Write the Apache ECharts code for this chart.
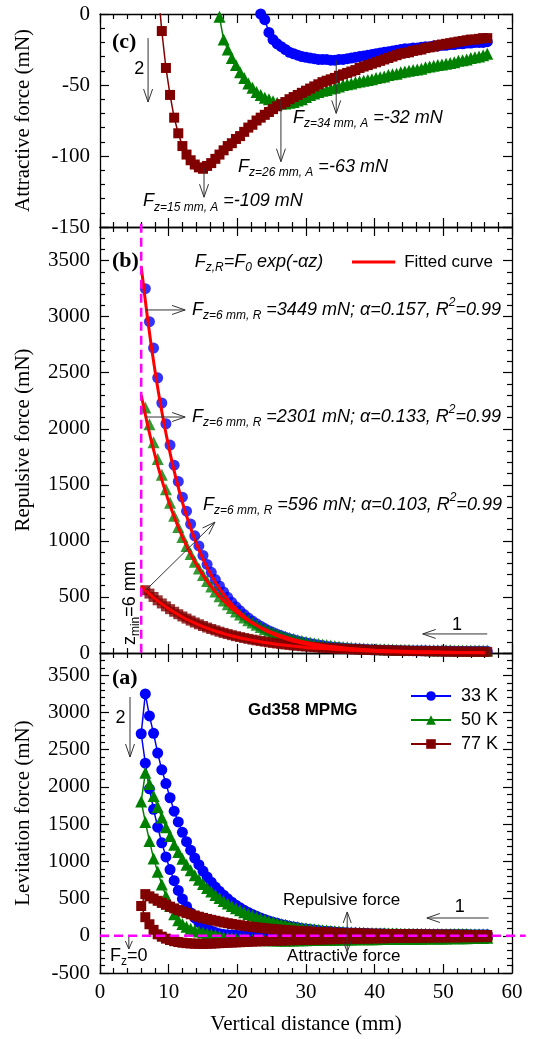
<!DOCTYPE html>
<html>
<head>
<meta charset="utf-8">
<script src="https://cdn.jsdelivr.net/npm/echarts@6/dist/echarts.min.js"></script>
<style>
  html, body { margin: 0; padding: 0; background: #fff; }
  #chart { width: 539px; height: 1039px; }
</style>
</head>
<body>
<div id="chart"></div>
<script>
// Vertical distance grid (mm) shared by all measured branches
const zUp = [
  6.0, 6.6, 7.2, 7.8, 8.4, 9.0, 9.6, 10.2, 10.8, 11.4,
  12.0, 12.6, 13.2, 13.8, 14.4, 15.0, 15.6, 16.2, 16.8, 17.4,
  18.0, 18.6, 19.2, 19.8, 20.4, 21.0, 21.6, 22.2, 22.8, 23.4,
  24.0, 24.6, 25.2, 25.8, 26.4, 27.0, 27.6, 28.2, 28.8, 29.4,
  30.0, 30.6, 31.2, 31.8, 32.4, 33.0, 33.6, 34.2, 34.8, 35.4,
  36.0, 36.6, 37.2, 37.8, 38.4, 39.0, 39.6, 40.2, 40.8, 41.4,
  42.0, 42.6, 43.2, 43.8, 44.4, 45.0, 45.6, 46.2, 46.8, 47.4,
  48.0, 48.6, 49.2, 49.8, 50.4, 51.0, 51.6, 52.2, 52.8, 53.4,
  54.0, 54.6, 55.2, 55.8, 56.4
];

// 33 K: descending magnet (repulsive branch) and ascending magnet (attractive branch), mN
const repBlue = [
  null, 3250, 2955, 2720, 2455, 2230, 2045, 1855, 1675, 1530,
  1390, 1265, 1150, 1045, 955, 870, 790, 720, 655, 598,
  545, 497, 452, 412, 376, 343, 313, 286, 262, 239,
  218, 199, 182, 167, 153, 140, 128, 118, 108, 99,
  91, 84, 77, 71, 66, 61, 56, 52, 48, 45,
  42, 39, 37, 35, 33, 31, 29, 28, 27, 26,
  25, 24, 23, 22, 21, 21, 20, 20, 19, 19,
  18, 18, 18, 17, 17, 17, 16, 16, 16, 16,
  15, 15, 15, 15, 15
];
const attBlue = [
  2715, 2320, 1975, 1700, 1460, 1250, 1060, 890, 740, 610,
  495, 395, 310, 240, 180, 132, 94, 65, 44, 29,
  19, 13, 9, 7, 5, 4, 3, 2, 1, 0,
  -4, -13, -18, -21, -23, -25, -27, -28, -29, -30,
  -30.5, -31, -31.5, -32, -32, -32, -32.5, -32.5, -32, -32,
  -31.5, -31, -30.5, -30, -29.5, -29, -28.5, -28, -27.5, -27,
  -26.5, -26, -25.5, -25, -24.5, -24.5, -24, -24, -23.5, -23,
  -23, -22.5, -22.5, -22, -22, -21.5, -21.5, -21, -21, -20.5,
  -20.5, -20, -20, -20, -19.5
];

// 50 K
const repGreen = [
  null, 2190, 2040, 1880, 1730, 1590, 1460, 1340, 1225, 1125,
  1035, 955, 882, 815, 753, 696, 643, 594, 549, 507,
  469, 434, 401, 371, 343, 317, 293, 271, 251, 232,
  215, 199, 184, 171, 158, 147, 136, 126, 117, 109,
  101, 94, 88, 82, 76, 71, 66, 62, 58, 54,
  51, 48, 45, 43, 41, 39, 37, 35, 34, 33,
  32, 31, 30, 29, 28, 28, 27, 27, 26, 26,
  25, 25, 25, 24, 24, 24, 23, 23, 23, 23,
  22, 22, 22, 22, 22
];
const attGreen = [
  1805, 1530, 1275, 1040, 860, 690, 535, 400, 290, 210,
  160, 122, 94, 75, 58, 44, 32, 21, 11, -2,
  -18, -25, -31, -36, -41, -45, -49, -52, -55, -57,
  -59, -60, -61.5, -62.5, -63, -63, -62.5, -62, -61, -60,
  -58.5, -57, -56, -55, -54, -53.5, -52.5, -52, -51, -50,
  -49.5, -49, -48, -47.5, -47, -46.5, -46, -45, -44.5, -44,
  -43, -42.5, -42, -41, -40.5, -40, -39.5, -39, -38.5, -37.5,
  -37, -36.5, -36, -35.5, -35, -34.5, -34, -33, -32.5, -32,
  -31, -30.5, -30, -29, -28
];

// 77 K
const repMaroon = [
  null, 560, 530, 500, 470, 442, 416, 391, 368, 346,
  326, 307, 289, 272, 256, 241, 227, 214, 202, 190,
  179, 169, 159, 150, 142, 134, 126, 119, 113, 107,
  101, 95, 90, 85, 81, 76, 72, 68, 65, 61,
  58, 55, 52, 50, 47, 45, 43, 41, 39, 37,
  35, 34, 32, 31, 29, 28, 27, 26, 25, 24,
  23, 22, 21, 20, 20, 19, 18, 18, 17, 16,
  16, 15, 15, 14, 14, 13, 13, 12, 12, 12,
  11, 11, 11, 10, 10
];
const attMaroon = [
  400, 250, 155, 80, 20, -12, -38, -57, -73, -84,
  -93, -99, -103, -106, -108, -109, -107, -105, -102, -99,
  -96, -93, -91, -88, -86, -83, -80, -78, -75, -73,
  -71, -69, -67, -65, -63.5, -62, -60, -58.5, -57, -55.5,
  -54, -52.5, -51, -49.5, -48, -47, -46, -45, -43.5, -42.5,
  -41.5, -40.5, -39.5, -38, -37, -36, -35, -34, -33, -32,
  -31, -30, -29, -28, -27.5, -27, -26, -25.5, -25, -24,
  -23.5, -23, -22, -21.5, -21, -20.5, -20, -19.5, -19, -18.5,
  -18, -18, -17.5, -17, -17
];

// Exponential fits of the repulsive branches, sampled along z (mm)
const zFit = [6, 7, 8, 9, 10, 11, 12, 13, 14, 15, 16, 17, 18, 19, 20, 21, 22, 23, 24, 25, 26,
              28, 30, 32, 34, 36, 38, 40, 42, 44, 46, 48, 50, 52, 54, 56];
const fitBlue = [3449, 2948, 2520, 2154, 1841, 1573, 1345, 1150, 982, 840, 718, 613, 524, 448, 383, 327, 280, 239, 204, 175, 149,
                 109, 80, 58, 43, 31, 23, 17, 12, 9, 6, 5, 3, 2, 2, 1];
const fitGreen = [2301, 2015, 1764, 1544, 1352, 1184, 1036, 907, 794, 695, 609, 533, 467, 409, 358, 313, 274, 240, 210, 184, 161,
                  124, 94, 72, 55, 42, 33, 25, 19, 15, 11, 9, 7, 5, 4, 3];
const fitMaroon = [596, 538, 485, 438, 395, 356, 321, 290, 262, 236, 213, 192, 173, 156, 141, 127, 115, 104, 94, 84, 76,
                   62, 50, 41, 33, 27, 22, 18, 15, 12, 10, 8, 6, 5, 4, 3];

const temps = ['33 K', '50 K', '77 K'];
const xTicks = { min: 0, max: 60, step: 10 };
const panelRanges = [
  { min: -150, max: 0, step: 50, title: 'Attractive force (mN)' },
  { min: 0, max: 3800, step: 500, title: 'Repulsive force (mN)' },
  { min: -500, max: 3800, step: 500, title: 'Levitation force (mN)' }
];

const SERIF = '"Liberation Serif", "Times New Roman", serif';
const SANS = '"Liberation Sans", Arial, sans-serif';
const C33 = '#0000ff', C50 = '#008000', C77 = '#800000', CFIT = '#ff0000', CMAG = '#ff00ff';

const marks = [
  { symbol: 'circle', size: 11, color: C33 },
  { symbol: 'triangle', size: 12, color: C50 },
  { symbol: 'rect', size: 10, color: C77 }
];

// full hysteresis loop: descent from far to near, then ascent back out
function loopPoints(rep, att) {
  const pts = [];
  for (let i = zUp.length - 1; i >= 0; i--) if (rep[i] !== null) pts.push([zUp[i], rep[i]]);
  for (let i = 0; i < zUp.length; i++) pts.push([zUp[i], att[i]]);
  return pts;
}
function pairs(zs, vs) {
  return zs.map((z, i) => [z, vs[i]]).filter(p => p[1] !== null);
}

const grids = [
  { left: 100, right: 27, top: 14, height: 213 },
  { left: 100, right: 27, top: 227, height: 426 },
  { left: 100, right: 27, top: 653, height: 320 }
];

const tickStyle = { color: '#000', width: 1.2 };
const plain = v => String(v);
function xAxisDef(gi, pos, withLabels) {
  return {
    type: 'value', gridIndex: gi, position: pos,
    min: xTicks.min, max: xTicks.max, interval: xTicks.step,
    axisLine: { show: true, onZero: false, lineStyle: { color: '#000', width: 1.3 } },
    axisTick: { show: true, inside: true, length: 9, lineStyle: tickStyle },
    minorTick: { show: true, splitNumber: 5, length: 5, lineStyle: tickStyle },
    splitLine: { show: false }, minorSplitLine: { show: false },
    axisLabel: withLabels ? { show: true, margin: 9, fontFamily: SERIF, fontSize: 21, color: '#000', formatter: plain } : { show: false },
    name: withLabels ? 'Vertical distance (mm)' : '',
    nameLocation: 'middle', nameGap: 41,
    nameTextStyle: { fontFamily: SERIF, fontSize: 21, color: '#000' }
  };
}
function yAxisDef(gi, pos, withLabels) {
  const r = panelRanges[gi];
  return {
    type: 'value', gridIndex: gi, position: pos,
    min: r.min, max: r.max, interval: r.step,
    axisLine: { show: true, onZero: false, lineStyle: { color: '#000', width: 1.3 } },
    axisTick: { show: true, inside: true, length: 9, lineStyle: tickStyle },
    minorTick: { show: true, splitNumber: 5, length: 5, lineStyle: tickStyle },
    splitLine: { show: false }, minorSplitLine: { show: false },
    axisLabel: withLabels ? {
      show: true, margin: 10, fontFamily: SERIF, fontSize: 21, color: '#000', formatter: plain,
      showMaxLabel: gi === 0, showMinLabel: true
    } : { show: false },
    name: withLabels ? r.title : '',
    nameLocation: 'middle', nameRotate: 90, nameGap: 66,
    nameTextStyle: { fontFamily: SERIF, fontSize: 21, color: '#000' }
  };
}

const xAxes = [], yAxes = [];
for (let gi = 0; gi < 3; gi++) {
  xAxes.push(xAxisDef(gi, 'bottom', gi === 2));
  xAxes.push(xAxisDef(gi, 'top', false));
  yAxes.push(yAxisDef(gi, 'left', true));
  yAxes.push(yAxisDef(gi, 'right', false));
}

function lineSeries(name, axis, data, m) {
  return {
    name, type: 'line', xAxisIndex: axis, yAxisIndex: axis, data,
    symbol: m.symbol, symbolSize: m.size, showSymbol: true, clip: true,
    itemStyle: { color: m.color }, lineStyle: { color: m.color, width: 1.5 },
    emphasis: { disabled: true }, z: 3
  };
}
function scatterSeries(name, axis, data, m) {
  return {
    name, type: 'scatter', xAxisIndex: axis, yAxisIndex: axis, data,
    symbol: m.symbol, symbolSize: m.size, clip: true,
    itemStyle: { color: m.color }, emphasis: { disabled: true }, z: 3
  };
}
function fitSeries(name, axis, vals) {
  return {
    name, type: 'line', xAxisIndex: axis, yAxisIndex: axis, data: pairs(zFit, vals),
    symbol: 'none', smooth: 0.3, clip: true,
    lineStyle: { color: CFIT, width: 3 }, emphasis: { disabled: true }, z: 4
  };
}

const reps = [repBlue, repGreen, repMaroon];
const atts = [attBlue, attGreen, attMaroon];
const fits = [fitBlue, fitGreen, fitMaroon];

const series = [];
// (a) levitation force loops
temps.forEach((t, k) => series.push(lineSeries(t, 4, loopPoints(reps[k], atts[k]), marks[k])));
// (c) attractive branches
temps.forEach((t, k) => series.push(lineSeries(t + ' attractive', 0, pairs(zUp, atts[k]), marks[k])));
// (b) repulsive branches and their fits
temps.forEach((t, k) => series.push(scatterSeries(t + ' repulsive', 2, pairs(zUp, reps[k]), marks[k])));
temps.forEach((t, k) => series.push(fitSeries(t + ' fit', 2, fits[k])));

const option = {
  animation: false,
  backgroundColor: '#fff',
  grid: grids,
  xAxis: xAxes,
  yAxis: yAxes,
  legend: {
    data: temps, orient: 'vertical', left: 405, top: 682,
    itemWidth: 40, itemHeight: 12, itemGap: 6, selectedMode: false,
    textStyle: { fontFamily: SANS, fontSize: 18, color: '#000', padding: [0, 0, 0, 5] }
  },
  series
};

const chart = echarts.init(document.getElementById('chart'), null, { renderer: 'canvas' });
chart.setOption(option);

// ---------- annotations ----------
const PC = 0, PB = 1, PA = 2;
const P = (gi, z, f) => chart.convertToPixel({ xAxisIndex: 2 * gi, yAxisIndex: 2 * gi }, [z, f]);
const measure = document.createElement('canvas').getContext('2d');
function textWidth(t, size, italic, bold, family) {
  measure.font = (italic ? 'italic ' : '') + (bold ? 'bold ' : '') + size + 'px ' + family;
  return measure.measureText(t).width;
}
const ARROW = '#333';
const els = [];

function textEl(x, y, t, size, o) {
  o = o || {};
  return {
    type: 'text', x, y, z: 100, silent: true,
    style: {
      text: t, fontSize: size, fontFamily: o.family || SANS,
      fontStyle: o.italic ? 'italic' : 'normal', fontWeight: o.bold ? 'bold' : 'normal',
      fill: '#000', align: o.align || 'left', verticalAlign: 'middle'
    }
  };
}
// run of text pieces [text, size, dy, italic] laid out left to right
function richRun(x, y, parts, rotation) {
  const children = [];
  let cx = 0;
  parts.forEach(([t, size, dy, italic]) => {
    children.push(textEl(cx, dy, t, size, { italic }));
    cx += textWidth(t, size, italic, false, SANS);
  });
  return { type: 'group', x, y, rotation: rotation || 0, z: 100, children };
}
function arrow(p1, p2, o) {
  o = o || {};
  const len = o.head || 13, half = o.half || 4.5;
  const dx = p2[0] - p1[0], dy = p2[1] - p1[1], L = Math.hypot(dx, dy);
  const ux = dx / L, uy = dy / L;
  const head = (tip, sx, sy) => {
    const bx = tip[0] - sx * len, by = tip[1] - sy * len;
    return [[bx - sy * half, by + sx * half], tip, [bx + sy * half, by - sx * half]];
  };
  const style = { stroke: ARROW, lineWidth: 1, fill: null };
  els.push({ type: 'polyline', z: 100, silent: true, shape: { points: [p1, p2] }, style });
  els.push({ type: 'polyline', z: 100, silent: true, shape: { points: head(p2, ux, uy) }, style });
  if (o.both) els.push({ type: 'polyline', z: 100, silent: true, shape: { points: head(p1, -ux, -uy) }, style });
}
function dashed(p1, p2) {
  els.push({
    type: 'line', z: 90, silent: true,
    shape: { x1: p1[0], y1: p1[1], x2: p2[0], y2: p2[1] },
    style: { stroke: CMAG, lineWidth: 2.5, lineDash: [9, 5] }
  });
}
function place(gi, z, f) { return P(gi, z, f); }

// panel (c)
let p = place(PC, 1.75, -19.7);
els.push(textEl(p[0], p[1], '(c)', 22, { family: SERIF, bold: true }));
p = place(PC, 5.7, -38.5);
els.push(textEl(p[0], p[1], '2', 18, { align: 'center' }));
arrow(place(PC, 7.0, -17), place(PC, 7.0, -62));
arrow(place(PC, 34.4, -32.5), place(PC, 34.4, -70));
p = place(PC, 28.1, -73.2);
els.push(richRun(p[0], p[1], [['F', 18, 0, true], ['z=34 mm, A', 12, 6, true], [' =-32 mN', 18, 0, true]]));
arrow(place(PC, 26.35, -60.6), place(PC, 26.35, -104));
p = place(PC, 20.1, -107.7);
els.push(richRun(p[0], p[1], [['F', 18, 0, true], ['z=26 mm, A', 12, 6, true], [' =-63 mN', 18, 0, true]]));
arrow(place(PC, 15.15, -108.5), place(PC, 15.15, -129));
p = place(PC, 6.26, -132);
els.push(richRun(p[0], p[1], [['F', 18, 0, true], ['z=15 mm, A', 12, 6, true], [' =-109 mN', 18, 0, true]]));

// panel (b)
p = place(PB, 1.75, 3497);
els.push(textEl(p[0], p[1], '(b)', 22, { family: SERIF, bold: true }));
p = place(PB, 13.8, 3488);
els.push(richRun(p[0], p[1], [['F', 18, 0, true], ['z,R', 12, 6, true], ['=F', 18, 0, true], ['0', 12, 6, true], [' exp(-\u03b1z)', 18, 0, true]]));
const lg1 = place(PB, 36.7, 3488), lg2 = place(PB, 43.0, 3488);
els.push({ type: 'line', z: 100, silent: true, shape: { x1: lg1[0], y1: lg1[1], x2: lg2[0], y2: lg2[1] }, style: { stroke: CFIT, lineWidth: 3 } });
p = place(PB, 44.3, 3488);
els.push(textEl(p[0], p[1], 'Fitted curve', 17));

const fitLabels = [
  { f: 3060, text: ' =3449 mN; \u03b1=0.157, R' },
  { f: 2105, text: ' =2301 mN; \u03b1=0.133, R' }
];
fitLabels.forEach(l => {
  arrow(place(PB, 6.7, l.f), place(PB, 12.4, l.f));
  const q = place(PB, 13.4, l.f);
  els.push(richRun(q[0], q[1], [['F', 18, 0, true], ['z=6 mm, R', 12, 6, true], [l.text, 18, 0, true], ['2', 12, -7, true], ['=0.99', 18, 0, true]]));
});
arrow(place(PB, 6.7, 562), place(PB, 16.75, 1168));
p = place(PB, 15.0, 1320);
els.push(richRun(p[0], p[1], [['F', 18, 0, true], ['z=6 mm, R', 12, 6, true], [' =596 mN; \u03b1=0.103, R', 18, 0, true], ['2', 12, -7, true], ['=0.99', 18, 0, true]]));
p = place(PB, 4.37, 71);
els.push(richRun(p[0], p[1], [['z', 18, 0, false], ['min', 12, 6, false], ['=6 mm', 18, 0, false]], Math.PI / 2));
p = place(PB, 52.0, 250);
els.push(textEl(p[0], p[1], '1', 18, { align: 'center' }));
arrow(place(PB, 56.4, 170), place(PB, 47.0, 170));
dashed(place(PB, 6, 3830), place(PB, 6, -20));

// panel (a)
p = place(PA, 1.75, 3464);
els.push(textEl(p[0], p[1], '(a)', 22, { family: SERIF, bold: true }));
p = place(PA, 3.0, 2927);
els.push(textEl(p[0], p[1], '2', 18, { align: 'center' }));
arrow(place(PA, 4.37, 3209), place(PA, 4.37, 2403));
p = place(PA, 21.55, 3034);
els.push(textEl(p[0], p[1], 'Gd358 MPMG', 17, { bold: true }));
p = place(PA, 35.2, 481);
els.push(textEl(p[0], p[1], 'Repulsive force', 17, { align: 'center' }));
p = place(PA, 35.5, -271);
els.push(textEl(p[0], p[1], 'Attractive force', 17, { align: 'center' }));
arrow(place(PA, 36, 320), place(PA, 36, -218), { both: true, head: 11, half: 4 });
p = place(PA, 52.4, 387);
els.push(textEl(p[0], p[1], '1', 18, { align: 'center' }));
arrow(place(PA, 56.6, 239), place(PA, 47.6, 239));
p = place(PA, 1.45, -271);
els.push(richRun(p[0], p[1], [['F', 18, 0, false], ['z', 12, 6, false], ['=0', 18, 0, false]]));
arrow(place(PA, 4.2, -16), place(PA, 4.2, -177), { head: 8, half: 3.5 });
dashed(place(PA, 0, 0), place(PA, 62, 0));

chart.setOption({ graphic: { elements: els } });
</script>
</body>
</html>
